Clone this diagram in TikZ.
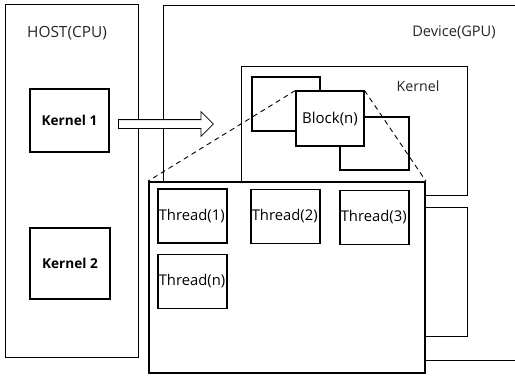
\documentclass[tikz,border=0pt]{standalone}
\usepackage{fontspec}
\setmainfont{Open Sans}
\usetikzlibrary{shapes.arrows}
\begin{document}
\begin{tikzpicture}[x=1pt,y=-1pt,
  frame/.style={draw, rectangle, inner sep=0pt, line width=0.8pt, fill=white},
  blockbox/.style={frame, line width=1.1pt},
  panelbox/.style={frame, line width=1.8pt},
  threadbox/.style={frame, line width=1.1pt, inner xsep=0.8pt, text width=67.4pt, align=left,
    minimum height=54pt, font=\fontsize{14.8}{16}\selectfont},
  lbl/.style={inner sep=0pt, font=\fontsize{14.2}{16}\selectfont, text=black!85},
  kbox/.style={frame, line width=1.1pt, font=\bfseries\fontsize{13.6}{15}\selectfont},
  zoomline/.style={draw, dashed, line width=0.9pt, dash pattern=on 5pt off 4pt}
]
\fill[white] (0,0) rectangle (515,376);
\clip (0,0) rectangle (515,376);

% host side
\node[frame, minimum width=133pt, minimum height=353pt] (host) at (71.5,180.5) {};
\node[lbl, font=\fontsize{15.4}{16}\selectfont] (hostlbl) at (67,33) {HOST(CPU)};
\node[kbox, minimum width=79pt, minimum height=63pt] (k1) at (69.5,120.5) {Kernel 1};
\node[kbox, minimum width=80pt, minimum height=71pt] (k2) at (70,263.5) {Kernel 2};

% device side
\node[frame, minimum width=367pt, minimum height=355pt] (dev) at (346.5,182.5) {};
\node[lbl, font=\fontsize{14.6}{16}\selectfont] (devlbl) at (454,32) {Device(GPU)};

% launch arrow
\node[single arrow, draw, line width=0.8pt, fill=white, inner sep=4pt,
  single arrow head extend=8pt, minimum height=95pt, anchor=tail] (launch) at (118,124) {};

% kernel with its blocks
\node[frame, minimum width=226pt, minimum height=129pt] (kern) at (354,130.5) {};
\node[lbl] (kernlbl) at (418,86) {Kernel};
\node[blockbox, minimum width=68pt, minimum height=54pt] (b1) at (286,104) {};
\node[blockbox, minimum width=69pt, minimum height=53pt] (b3) at (374.5,143.5) {};
\node[blockbox, minimum width=68pt, minimum height=55pt, font=\fontsize{15}{16}\selectfont] (bn) at (330,118.5) {Block(n)};

% second kernel, partly hidden
\node[frame, minimum width=167pt, minimum height=129pt] (kern2) at (383.5,271.5) {};

% threads of block n
\node[panelbox, minimum width=276pt, minimum height=191pt] (panel) at (287,277.5) {};
\node[threadbox] (t1) at (192.5,216) {Thread(1)};
\node[threadbox] (t2) at (285.5,216.5) {Thread(2)};
\node[threadbox] (t3) at (374.5,217.5) {Thread(3)};
\node[threadbox] (tn) at (192.5,281.5) {Thread(n)};

% zoom lines from block n to its thread panel
\draw[zoomline] (bn.north west) -- (panel.north west);
\draw[zoomline] (bn.north east) -- (panel.north east);
\end{tikzpicture}
\end{document}
